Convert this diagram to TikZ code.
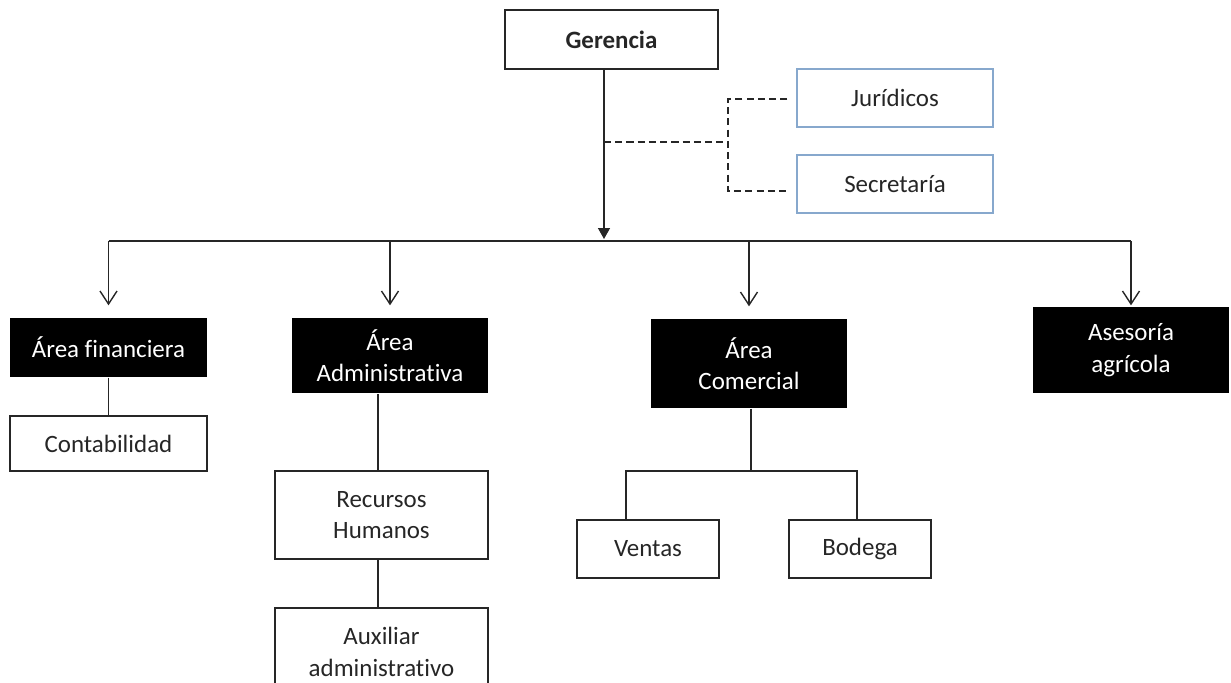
\documentclass[tikz,border=0pt]{standalone}
\usepackage{fontspec}
\setmainfont{Carlito}[Ligatures=NoCommon]
\usetikzlibrary{arrows.meta}
\definecolor{apoyoazul}{RGB}{135,168,205}
\begin{document}
\begin{tikzpicture}[
    x=0.02cm, y=-0.02cm,
    font=\fontsize{14.2}{18}\selectfont,
    caja/.style={rectangle, line width=0.8pt, align=center, inner sep=2pt, text=black!85},
    jefe/.style={caja, draw=black!85, minimum width=4.26cm, minimum height=1.18cm, font=\fontsize{14.2}{18}\selectfont\bfseries},
    apoyo/.style={caja, draw=apoyoazul, minimum width=3.92cm, minimum height=1.16cm},
    area/.style={caja, fill=black, text=white, minimum width=3.94cm},
    unidad/.style={caja, draw=black!85},
    enlace/.style={line width=0.8pt, black!85},
    rama/.style={enlace, -{Straight Barb[length=0.26cm, width=0.34cm]}, shorten >=0.24cm},
    asesor/.style={enlace, dash pattern=on 4pt off 2.4pt}
]
\useasboundingbox (0,0) rectangle (1231,683);

% Gerencia y apoyo
\node[jefe] (ger) at (611.5,39.5) {Gerencia};
\node[apoyo] (jur) at (895,98) {Jurídicos};
\node[apoyo] (sec) at (895,184) {Secretaría};

% Areas
\node[area, minimum height=1.18cm] (fin) at (108.5,347.5) {Área financiera};
\node[area, minimum height=1.50cm] (adm) at (390,355.5) {Área\\Administrativa};
\node[area, minimum height=1.78cm] (com) at (749,363.5) {Área\\Comercial};
\node[area, minimum height=1.72cm] (ase) at (1131,350) {Asesoría\\agrícola};

% Unidades
\node[unidad, minimum width=3.94cm, minimum height=1.10cm] (con) at (108.5,443.5) {Contabilidad};
\node[unidad, minimum width=4.26cm, minimum height=1.76cm] (rrhh) at (381.5,515) {Recursos\\Humanos};
\node[unidad, minimum width=4.26cm, minimum height=1.76cm] (aux) at (381.5,652) {Auxiliar\\administrativo};
\node[unidad, minimum width=2.84cm, minimum height=1.16cm] (ven) at (648,549) {Ventas};
\node[unidad, minimum width=2.84cm, minimum height=1.16cm] (bod) at (860,549) {Bodega};

% Puntos de union
\coordinate (bus) at (604,241);
\coordinate (gerdash) at (604,142);
\coordinate (dashfork) at (728,142);
\coordinate (comfork) at (751,471);

% Conexiones
\draw[enlace, -{Triangle[length=0.22cm, width=0.24cm]}] (ger.south -| bus) -- ([yshift=0.04cm]bus);
\draw[enlace] (fin |- bus) -- (ase |- bus);
\foreach \area in {fin, adm, com}
    \draw[rama] (\area.north |- bus) -- (\area.north);
\draw[rama, shorten >=0pt] (ase.north |- bus) -- ([yshift=0.02cm]ase.north);

\draw[asesor] (gerdash) -- (dashfork);
\draw[asesor] ([xshift=-0.18cm, yshift=-0.02cm]jur.west) -| (dashfork) |- ([xshift=-0.18cm, yshift=-0.14cm]sec.west);

\draw[enlace] (fin.south) -- (con.north);
\draw[enlace] (rrhh.north -| 378,0) -- (adm.south -| 378,0);
\draw[enlace] (rrhh.south -| 378,0) -- (aux.north -| 378,0);
\draw[enlace] (com.south -| comfork) -- (comfork);
\draw[enlace] ([xshift=-0.44cm]ven.north) |- (comfork) -| ([xshift=-0.06cm]bod.north);

\end{tikzpicture}
\end{document}
